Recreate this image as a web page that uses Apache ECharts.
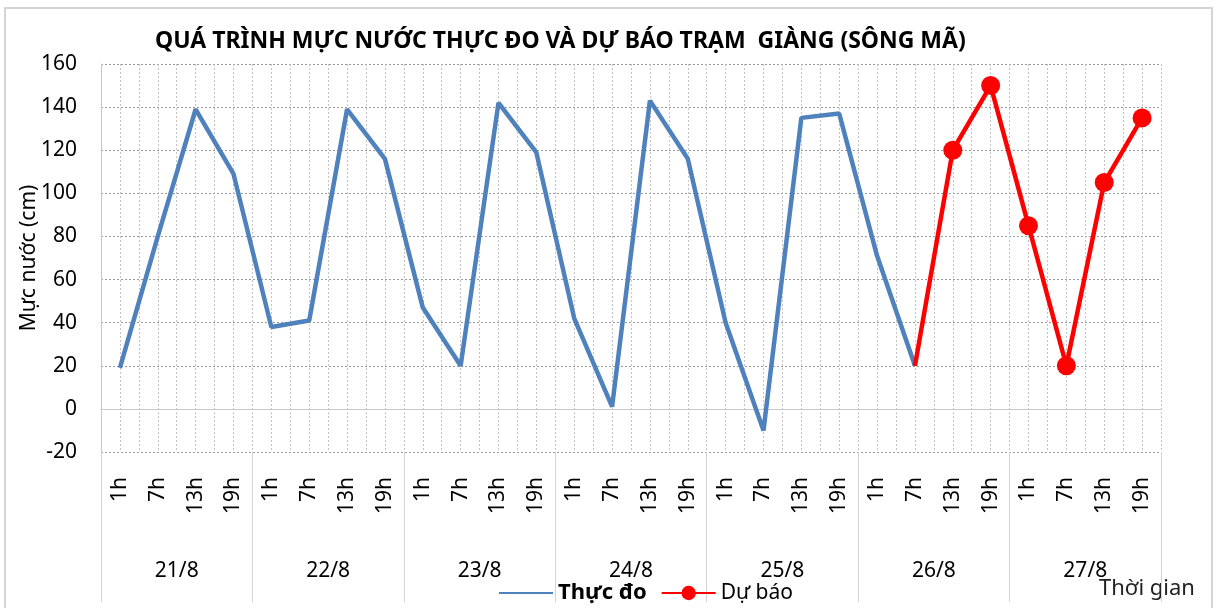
<!DOCTYPE html>
<html>
<head>
<meta charset="utf-8">
<script src="https://cdn.jsdelivr.net/npm/echarts@6/dist/echarts.min.js"></script>
<style>
  html, body {margin: 0; padding: 0; background: #fff;}
  #chart {width: 1217px; height: 608px;}
</style>
</head>
<body>
<div id="chart"></div>
<script>
// giờ quan trắc trong ngày và các ngày
const hours = ['1h', '7h', '13h', '19h']
const days = ['21/8', '22/8', '23/8', '24/8', '25/8', '26/8', '27/8']
const yTicks = {min: -20, max: 160, step: 20}

// mực nước thực đo (cm), từ 1h 21/8 tới 7h 26/8
const thucDo = [19, 80, 139, 109, 38, 41, 139, 116, 47, 20, 142, 119, 42, 1, 143, 116, 40, -10, 135, 137, 71, 20]
// mực nước dự báo (cm), từ 7h 26/8 tới 19h 27/8
const duBao = [20, 120, 150, 85, 20, 105, 135]

const categories = days.flatMap(() => hours)
const n = categories.length
const obsData = categories.map((_, i) => i < thucDo.length ? thucDo[i] : null)
const fcStart = n - duBao.length
const fcData = categories.map((_, i) => {
  if (i < fcStart) return null
  const v = duBao[i - fcStart]
  // điểm nối đầu tiên không có marker
  return i === fcStart ? {value: v, symbol: 'none'} : v
})

const FONT = 'Noto Sans'
const chart = echarts.init(document.getElementById('chart'))

chart.setOption({
  backgroundColor: '#fff',
  animation: false,
  textStyle: {fontFamily: FONT, color: '#000'},
  title: {
    text: 'QUÁ TRÌNH MỰC NƯỚC THỰC ĐO VÀ DỰ BÁO TRẠM  GIÀNG (SÔNG MÃ)',
    left: 150,
    top: 25,
    textStyle: {fontFamily: FONT, fontSize: 23, fontWeight: 'bold', color: '#000'}
  },
  grid: {left: 101, right: 56, top: 64, bottom: 156, containLabel: false},
  legend: {
    left: 493,
    top: 577,
    itemWidth: 54,
    itemHeight: 18,
    itemGap: 14,
    data: [
      {name: 'Thực đo', itemStyle: {opacity: 0}},
      {name: 'Dự báo'}
    ],
    formatter: name => name === 'Thực đo' ? '{a|' + name + '}' : '{b|' + name + '}',
    textStyle: {
      rich: {
        a: {fontFamily: FONT, fontSize: 22, fontWeight: 'bold', color: '#000'},
        b: {fontFamily: FONT, fontSize: 21, color: '#000'}
      }
    }
  },
  graphic: [
    {
      type: 'rect',
      silent: true,
      shape: {x: 5, y: 8, width: 1207, height: 610},
      style: {fill: 'none', stroke: '#d4d4d4', lineWidth: 2}
    },
    {
      type: 'text',
      left: 1099,
      top: 578,
      style: {text: 'Thời gian', fontFamily: FONT, fontSize: 22, fill: '#222'}
    }
  ],
  xAxis: [
    {
      type: 'category',
      data: categories,
      boundaryGap: true,
      axisLine: {show: true, lineStyle: {color: '#c8c8c8', width: 1}},
      axisTick: {show: false},
      axisLabel: {interval: 0, rotate: 90, margin: 25, fontSize: 21, color: '#000', fontFamily: FONT},
      splitLine: {show: false}
    },
    {
      type: 'category',
      data: days,
      position: 'bottom',
      boundaryGap: true,
      axisLine: {show: false},
      axisTick: {show: true, interval: 0, length: 150, lineStyle: {color: '#d4d4d4', width: 1}},
      axisLabel: {interval: 0, margin: 109, fontSize: 21, color: '#000', fontFamily: FONT},
      splitLine: {show: false}
    },
    {
      // lưới dọc nửa ô
      type: 'value',
      min: 0,
      max: n * 2,
      interval: 1,
      position: 'top',
      axisLine: {show: false},
      axisTick: {show: false},
      axisLabel: {show: false},
      splitLine: {show: true, lineStyle: {color: '#c4c4c4', type: [2, 2], width: 1}}
    }
  ],
  yAxis: {
    type: 'value',
    min: yTicks.min,
    max: yTicks.max,
    interval: yTicks.step,
    name: 'Mực nước (cm)',
    nameLocation: 'middle',
    nameRotate: 90,
    nameGap: 61,
    nameMoveOverlap: false,
    nameTextStyle: {fontFamily: FONT, fontSize: 21, color: '#000'},
    axisLine: {show: true, lineStyle: {color: '#c8c8c8', width: 1}},
    axisTick: {show: false},
    axisLabel: {margin: 24, fontSize: 21, color: '#000', fontFamily: FONT},
    splitLine: {show: true, lineStyle: {color: '#9a9a9a', type: [2, 2], width: 1}}
  },
  series: [
    {
      name: 'Thực đo',
      type: 'line',
      xAxisIndex: 0,
      data: obsData,
      symbol: 'none',
      lineStyle: {color: '#4F81BD', width: 4.5},
      itemStyle: {color: '#4F81BD'},
      z: 3
    },
    {
      name: 'Dự báo',
      type: 'line',
      xAxisIndex: 0,
      data: fcData,
      symbol: 'circle',
      symbolSize: 19,
      showAllSymbol: true,
      lineStyle: {color: '#FF0000', width: 4.5},
      itemStyle: {color: '#FF0000'},
      z: 4
    }
  ]
})
</script>
</body>
</html>
